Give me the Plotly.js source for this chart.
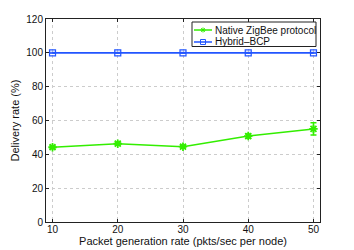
<!DOCTYPE html>
<html><head><meta charset="utf-8">
<script src="https://cdn.plot.ly/plotly-3.0.1.min.js"></script>
<style>html,body{margin:0;padding:0;background:#fff}#c{width:354px;height:250px}</style>
</head><body><div id="c"></div>
<script>
var rates = [10, 20, 30, 40, 50];
var zigbee = [44.2, 46.3, 44.5, 50.8, 55.0];
var zigbeeErr = [0.8, 0.8, 0.7, 1.2, 3.6];
var hybrid = [100, 100, 100, 100, 100];
var hybridErr = [0.3, 0.3, 0.3, 0.3, 0.3];
var seriesNames = ['Native ZigBee protocol', 'Hybrid\u2013BCP'];
var green = '#33ee00', blue = '#2255ff';

var traces = [
  {x: rates, y: zigbee, name: seriesNames[0], mode: 'lines+markers', type: 'scatter',
   line: {color: green, width: 1.5},
   marker: {symbol: 'asterisk-open', size: 7, color: green, line: {color: green, width: 1.8}},
   error_y: {type: 'data', array: zigbeeErr, visible: true, color: green, thickness: 1.5, width: 3}},
  {x: rates, y: hybrid, name: seriesNames[1], mode: 'lines+markers', type: 'scatter',
   line: {color: blue, width: 1.6},
   marker: {symbol: 'square-open', size: 6, color: blue, line: {color: blue, width: 1.2}},
   error_y: {type: 'data', array: hybridErr, visible: true, color: blue, thickness: 1, width: 3}}
];

// plot area in pixels
var L = 46, R = 320, T = 19, B = 222;
function px(x) { return (x - L) / (R - L); }
function py(y) { return (B - y) / (B - T); }

var shapes = [
  {type: 'rect', xref: 'paper', yref: 'paper', x0: px(192), x1: px(316), y0: py(46.5), y1: py(22),
   fillcolor: '#fff', line: {color: '#222', width: 1}, layer: 'above'},
  {type: 'line', xref: 'paper', yref: 'paper', x0: px(194), x1: px(212), y0: py(30), y1: py(30),
   line: {color: green, width: 1.5}, layer: 'above'},
  {type: 'line', xref: 'paper', yref: 'paper', x0: px(194), x1: px(212), y0: py(42), y1: py(42),
   line: {color: blue, width: 1.5}, layer: 'above'},
  // asterisk sample
  {type: 'line', xref: 'paper', yref: 'paper', x0: px(200.5), x1: px(205.5), y0: py(30), y1: py(30), line: {color: green, width: 1}, layer: 'above'},
  {type: 'line', xref: 'paper', yref: 'paper', x0: px(203), x1: px(203), y0: py(27.5), y1: py(32.5), line: {color: green, width: 1}, layer: 'above'},
  {type: 'line', xref: 'paper', yref: 'paper', x0: px(201.2), x1: px(204.8), y0: py(28.2), y1: py(31.8), line: {color: green, width: 1}, layer: 'above'},
  {type: 'line', xref: 'paper', yref: 'paper', x0: px(201.2), x1: px(204.8), y0: py(31.8), y1: py(28.2), line: {color: green, width: 1}, layer: 'above'},
  // square sample
  {type: 'rect', xref: 'paper', yref: 'paper', x0: px(200.5), x1: px(205.5), y0: py(44.5), y1: py(39.5),
   fillcolor: 'rgba(0,0,0,0)', line: {color: blue, width: 1}, layer: 'above'}
];

var annotations = [
  {xref: 'paper', yref: 'paper', x: px(213), y: py(30), xanchor: 'left', yanchor: 'middle', showarrow: false,
   text: seriesNames[0], font: {size: 10, color: '#111'}},
  {xref: 'paper', yref: 'paper', x: px(213), y: py(42), xanchor: 'left', yanchor: 'middle', showarrow: false,
   text: seriesNames[1], font: {size: 10, color: '#111'}}
];

var axisCommon = {
  showline: true, linecolor: '#222', linewidth: 1, mirror: 'ticks',
  ticks: 'inside', ticklen: 3, tickcolor: '#222',
  showgrid: true, gridcolor: '#cccccc', griddash: 'dot', gridwidth: 1,
  zeroline: false, tickfont: {family: 'Liberation Sans, Arial, sans-serif', size: 10, color: '#111'}
};

var layout = {
  width: 354, height: 250,
  margin: {l: L, r: 354 - R, t: T, b: 250 - B},
  paper_bgcolor: '#fff', plot_bgcolor: '#fff',
  font: {family: 'Liberation Sans, Arial, sans-serif', size: 10, color: '#111'},
  showlegend: false,
  shapes: shapes, annotations: annotations,
  xaxis: Object.assign({}, axisCommon, {range: [9, 51], tickvals: rates, ticktext: rates.map(String),
    ticklabelstandoff: -2,
    title: {text: 'Packet generation rate (pkts/sec per node)', font: {size: 11}, standoff: 0}}),
  yaxis: Object.assign({}, axisCommon, {range: [0, 120], dtick: 20,
    title: {text: 'Delivery rate (%)', font: {size: 11}, standoff: 4}})
};

Plotly.newPlot('c', traces, layout, {displayModeBar: false, staticPlot: true});
</script></body></html>
